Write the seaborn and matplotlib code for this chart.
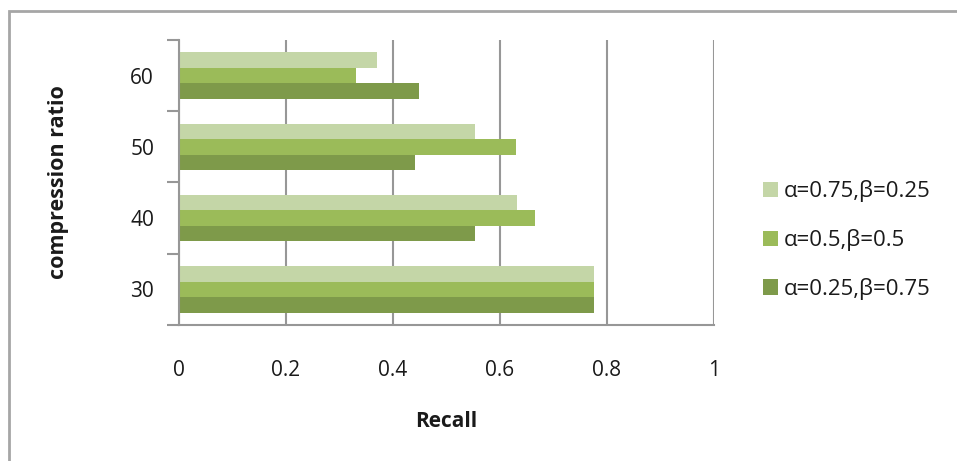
import matplotlib
matplotlib.use("Agg")
import matplotlib.pyplot as plt
from matplotlib.patches import Rectangle
from matplotlib.ticker import FixedLocator
import pandas as pd
import seaborn as sns

# Compression ratios (top to bottom) and recall for each weighting
ratios = ["60", "50", "40", "30"]
series_names = ["α=0.75,β=0.25", "α=0.5,β=0.5", "α=0.25,β=0.75"]
recall_a075 = [0.371, 0.554, 0.632, 0.776]
recall_a050 = [0.331, 0.629, 0.666, 0.776]
recall_a025 = [0.449, 0.441, 0.554, 0.776]
x_ticks = [0, 0.2, 0.4, 0.6, 0.8, 1]
x_tick_labels = ["0", "0.2", "0.4", "0.6", "0.8", "1"]

colors = ["#C4D6A7", "#9BBB59", "#7E9A4A"]
grid_grey = "#979797"
text_col = "#1a1a1a"

rows = []
for name, vals in zip(series_names, [recall_a075, recall_a050, recall_a025]):
    for r, v in zip(ratios, vals):
        rows.append({"ratio": r, "recall": v, "setting": name})
df = pd.DataFrame(rows)

sns.set_theme(style="white")
plt.rcParams["font.family"] = ["Open Sans", "DejaVu Sans"]

fig = plt.figure(figsize=(9.57, 4.61), dpi=100)
ax = fig.add_axes([179 / 957, 1 - 325 / 461, (714 - 179) / 957, (325 - 40) / 461])

sns.barplot(data=df, x="recall", y="ratio", hue="setting", order=ratios,
            hue_order=series_names, palette=colors, orient="h", width=0.65,
            dodge=True, errorbar=None, saturation=1, ax=ax,
            edgecolor="none", linewidth=0, zorder=3)

ax.set_xlim(0, 1)
ax.set_ylim(3.5, -0.5)

# Vertical gridlines
ax.xaxis.set_major_locator(FixedLocator(x_ticks))
ax.set_xticklabels(x_tick_labels)
ax.grid(axis="x", color=grid_grey, linewidth=1.5, zorder=0)
ax.grid(axis="y", visible=False)

for side in ["top", "right"]:
    ax.spines[side].set_visible(False)
for side in ["left", "bottom"]:
    ax.spines[side].set_color(grid_grey)
    ax.spines[side].set_linewidth(1.5)
    ax.spines[side].set_zorder(4)

ax.tick_params(axis="x", length=0, pad=25, labelsize=15, colors=text_col)
ax.tick_params(axis="y", which="major", length=0, pad=18, labelsize=15, colors=text_col)
ax.yaxis.set_minor_locator(FixedLocator([-0.5, 0.5, 1.5, 2.5, 3.5]))
ax.tick_params(axis="y", which="minor", length=9, width=1.5, color=grid_grey, left=True)

ax.set_xlabel("Recall", fontsize=15, fontweight="bold", color=text_col, labelpad=22)
ax.set_ylabel("compression ratio", fontsize=15.5, fontweight="bold", color=text_col, labelpad=44)

leg = ax.get_legend()
handles, labels = ax.get_legend_handles_labels()
leg.remove()
fig.legend(handles, labels, loc="center left",
           bbox_to_anchor=(763 / 957, 1 - 240 / 461), frameon=False,
           fontsize=16, handlelength=0.68, handleheight=0.68, handletextpad=0.25,
           labelspacing=1.2, labelcolor=text_col, borderpad=0, borderaxespad=0)

# Chart-area frame
fig.patches.append(Rectangle((9 / 957, -0.1), 1.2, 1 - 11 / 461 + 0.1,
                             transform=fig.transFigure, fill=False,
                             edgecolor="#a6a6a6", linewidth=2.0, zorder=0))

fig.savefig("out.png", dpi=100, facecolor="white")
